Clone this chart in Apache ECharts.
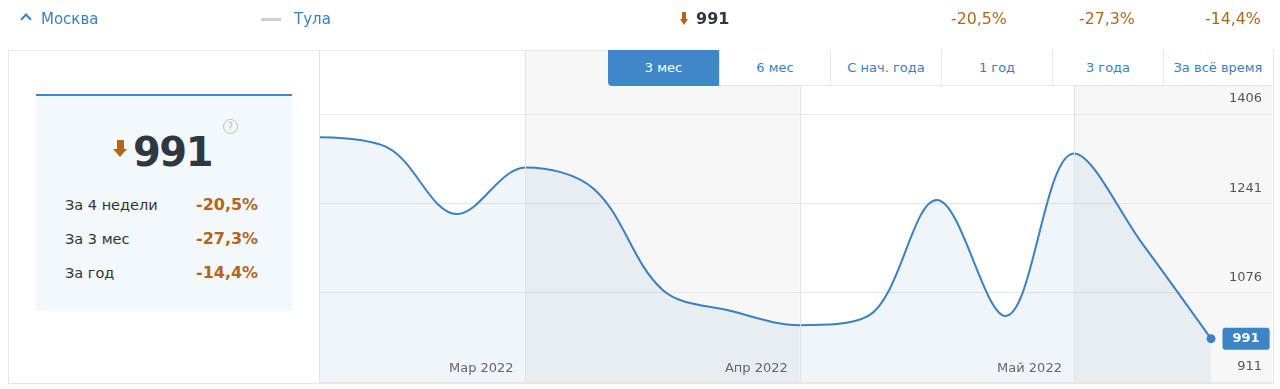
<!DOCTYPE html>
<html><head><meta charset="utf-8">
<script src="https://cdn.jsdelivr.net/npm/echarts@6/dist/echarts.min.js"></script>
<style>
html,body{margin:0;padding:0;background:#fff;}
body{width:1280px;height:389px;position:relative;overflow:hidden;font-family:"DejaVu Sans",Verdana,sans-serif;}
#chart{position:absolute;left:0;top:0;width:1280px;height:389px;}
.abs{position:absolute;white-space:nowrap;}
.frame{position:absolute;left:8px;top:50px;width:1264px;height:332px;border:1px solid #e7e7e7;pointer-events:none;}
.sep{position:absolute;left:319px;top:50px;width:1px;height:333px;background:#e3e3e3;}
.card{position:absolute;left:36px;top:94px;width:256px;height:215px;background:#f3f8fc;border-top:2px solid #3f87c9;border-radius:0 0 3px 3px;}
.blue{color:#3a7fc1;}
.orange{color:#b0661e;}
.arrow{position:absolute;}
.arrow .shaft{position:absolute;background:#b0661e;}
.arrow .head{position:absolute;width:0;height:0;border-style:solid;border-color:#b0661e transparent transparent transparent;}
.btns{position:absolute;left:608px;top:50px;height:36px;}
.btn{position:absolute;top:0;height:36px;line-height:36px;text-align:center;font-size:13px;color:#3a7fc1;background:#fff;border-left:1px solid #e6e6e6;border-bottom:1px solid #e6e6e6;box-sizing:border-box;}
.btn.active{background:#3f87c9;color:#fff;border:none;border-bottom-left-radius:4px;}
.q{position:absolute;left:223px;top:119px;width:13px;height:13px;border:1px solid #bdbdbd;border-radius:50%;color:#b5b5b5;font-size:10px;line-height:13px;text-align:center;}
</style></head><body>
<div id="chart"></div>
<div class="frame"></div>
<div class="sep"></div>

<!-- top row -->
<div class="abs" style="left:22px;top:15px;width:6px;height:6px;border-left:2px solid #3a7fc1;border-top:2px solid #3a7fc1;transform:rotate(45deg);"></div>
<div class="abs blue" style="left:41px;top:10px;font-size:15px;line-height:18px;">Москва</div>
<div class="abs" style="left:261px;top:18px;width:20px;height:3px;background:#cfcfcf;"></div>
<div class="abs blue" style="left:294px;top:10px;font-size:15px;line-height:18px;">Тула</div>
<div class="arrow" style="left:680px;top:12px;width:8px;height:13px;">
  <div class="shaft" style="left:2px;top:0;width:4px;height:7px;"></div>
  <div class="head" style="left:0;top:7px;border-width:6px 4px 0 4px;"></div>
</div>
<div class="abs" style="left:696px;top:10px;font-size:16px;line-height:18px;font-weight:bold;color:#2f3742;">991</div>
<div class="abs orange" style="left:951px;top:10px;font-size:15.8px;line-height:18px;">-20,5%</div>
<div class="abs orange" style="left:1079px;top:10px;font-size:15.8px;line-height:18px;">-27,3%</div>
<div class="abs orange" style="left:1205px;top:10px;font-size:15.8px;line-height:18px;">-14,4%</div>

<!-- card -->
<div class="card"></div>
<div class="arrow" style="left:113px;top:140px;width:14px;height:17px;">
  <div class="shaft" style="left:3.5px;top:0;width:7px;height:9px;"></div>
  <div class="head" style="left:0;top:9px;border-width:8px 7px 0 7px;"></div>
</div>
<div class="abs" style="left:133px;top:132px;font-size:40px;line-height:40px;font-weight:bold;color:#2f3742;letter-spacing:-1.5px;">991</div>
<div class="q">?</div>
<div class="abs" style="left:65px;top:195px;font-size:14.5px;line-height:20px;color:#333;">За 4 недели</div>
<div class="abs orange" style="left:196px;top:195px;font-size:16px;line-height:20px;font-weight:bold;">-20,5%</div>
<div class="abs" style="left:65px;top:229px;font-size:14.5px;line-height:20px;color:#333;">За 3 мес</div>
<div class="abs orange" style="left:196px;top:229px;font-size:16px;line-height:20px;font-weight:bold;">-27,3%</div>
<div class="abs" style="left:65px;top:263px;font-size:14.5px;line-height:20px;color:#333;">За год</div>
<div class="abs orange" style="left:196px;top:263px;font-size:16px;line-height:20px;font-weight:bold;">-14,4%</div>

<!-- range buttons -->
<div class="btns">
  <div class="btn active" style="left:0;width:111px;">3 мес</div>
  <div class="btn" style="left:111px;width:111px;">6 мес</div>
  <div class="btn" style="left:222px;width:111px;">С нач. года</div>
  <div class="btn" style="left:333px;width:111px;">1 год</div>
  <div class="btn" style="left:444px;width:111px;">3 года</div>
  <div class="btn" style="left:555px;width:109px;">За всё время</div>
</div>

<script>
// ---- data ----
const pointLabels = ['p1','p2','p3','p4','p5','p6','p7','p8','p9','p10','p11','p12','p13','p14'];
const values = [1363, 1343, 1221, 1307, 1267, 1081, 1042, 1016, 1033, 1247, 1033, 1333, 1166, 991];
const monthStarts = [3, 7, 11];
const monthLabels = ['Мар 2022', 'Апр 2022', 'Май 2022'];
const yMin = 911, yStep = 165, yMax = 1524;
const xMax = 13.89;

const lineColor = '#3b80c3';
const seriesData = values.map((v, i) => [i, v]);
const last = seriesData[seriesData.length - 1];

const chart = echarts.init(document.getElementById('chart'), null, {renderer: 'canvas'});
chart.setOption({
  animation: false,
  grid: {left: 320, right: 8, top: 50, bottom: 7, containLabel: false},
  xAxis: {
    type: 'value', min: 0, max: xMax, z: 4,
    axisLine: {show: false}, axisTick: {show: false}, splitLine: {show: false},
    axisLabel: {
      inside: true, customValues: monthStarts, margin: 7,
      align: 'right', padding: [0, 12, 0, 0],
      color: '#666', fontSize: 13, fontFamily: 'DejaVu Sans',
      formatter: v => monthLabels[monthStarts.indexOf(Math.round(v))] || ''
    }
  },
  yAxis: {
    type: 'value', position: 'right', min: yMin, max: yMax, interval: yStep, z: 2,
    axisLine: {show: false}, axisTick: {show: false},
    splitLine: {lineStyle: {color: '#e7e7e7', width: 1}},
    axisLabel: {
      inside: true, margin: 10, showMaxLabel: false,
      formatter: v => String(Math.round(v)),
      color: '#555', fontSize: 13, fontFamily: 'DejaVu Sans',
      verticalAlign: 'bottom', lineHeight: 16, padding: [0, 0, 7, 0]
    }
  },
  series: [
    {
      name: 'bands', type: 'line', z: 1, data: seriesData, silent: true,
      showSymbol: false, lineStyle: {opacity: 0, width: 0},
      markArea: {
        silent: true,
        itemStyle: {color: '#f7f7f7'},
        data: [
          [{xAxis: monthStarts[0]}, {xAxis: monthStarts[1]}],
          [{xAxis: monthStarts[2]}, {xAxis: xMax}]
        ]
      },
      markLine: {
        silent: true, symbol: 'none', label: {show: false},
        lineStyle: {color: '#e2e2e2', type: 'solid', width: 1},
        data: monthStarts.map(m => ({xAxis: m}))
      }
    },
    {
      name: 'Москва', type: 'line', z: 3, data: seriesData,
      smooth: 0.35, showSymbol: false,
      lineStyle: {color: lineColor, width: 2},
      areaStyle: {color: 'rgba(59,128,195,0.11)'}
    },
    {
      type: 'scatter', z: 5, data: [last], symbolSize: 9,
      itemStyle: {color: lineColor, opacity: 1},
      label: {
        show: true, position: 'right', distance: 7, opacity: 1,
        formatter: p => String(p.value[1]),
        backgroundColor: '#3d84c6', color: '#fff', fontWeight: 'bold',
        fontSize: 13, fontFamily: 'DejaVu Sans', lineHeight: 14,
        padding: [4, 10], borderRadius: 3
      }
    }
  ]
});
</script>
</body></html>
